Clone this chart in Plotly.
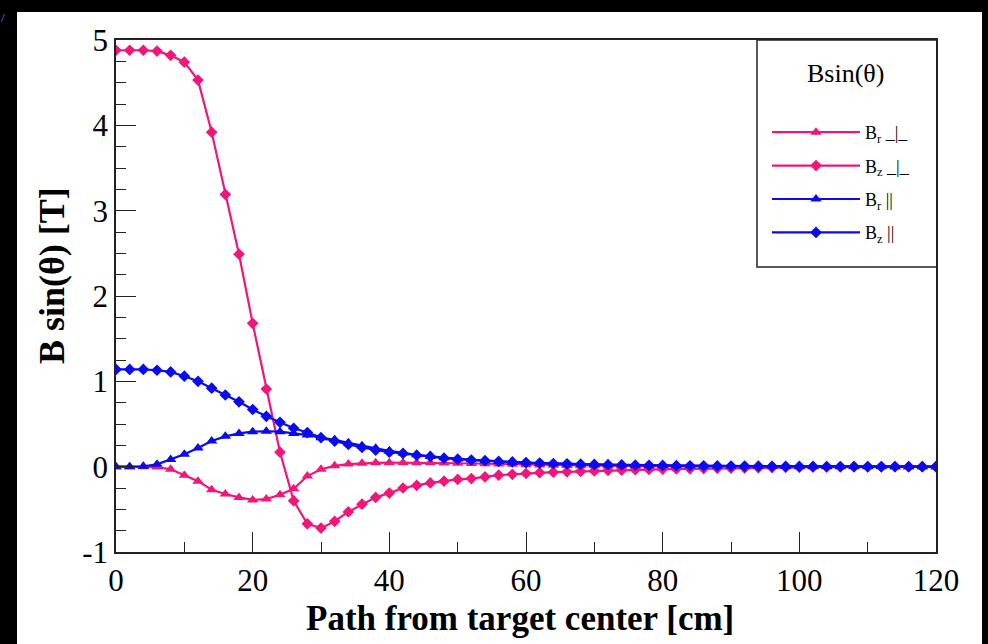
import plotly.graph_objects as go

# Path along the beam, sampled every 2 cm
path_cm = list(range(0, 122, 2))

# Transverse field components B sin(theta) [T]
br_perp = [0.0, 0.0, 0.0, -0.005, -0.03, -0.10, -0.17, -0.27, -0.32, -0.36,
           -0.39, -0.38, -0.33, -0.26, -0.11, -0.03, 0.01, 0.03, 0.04, 0.045,
           0.047, 0.047, 0.046, 0.045, 0.043, 0.04, 0.037, 0.034, 0.03, 0.027,
           0.023, 0.02, 0.017, 0.014, 0.012, 0.01, 0.008, 0.007, 0.006, 0.005,
           0.004, 0.003, 0.003, 0.002, 0.002, 0.002, 0.001, 0.001, 0.001, 0.001,
           0.0, 0.0, 0.0, 0.0, 0.0, 0.0, 0.0, 0.0, 0.0, 0.0, 0.0]

bz_perp = [4.88, 4.88, 4.88, 4.87, 4.82, 4.74, 4.53, 3.92, 3.19, 2.49,
           1.68, 0.91, 0.17, -0.40, -0.67, -0.72, -0.64, -0.53, -0.44, -0.36,
           -0.31, -0.25, -0.22, -0.19, -0.17, -0.15, -0.14, -0.12, -0.10, -0.09,
           -0.08, -0.07, -0.065, -0.06, -0.055, -0.05, -0.045, -0.04, -0.035, -0.032,
           -0.03, -0.027, -0.025, -0.022, -0.02, -0.018, -0.016, -0.014, -0.012, -0.01,
           -0.008, -0.006, -0.005, -0.004, -0.003, -0.002, -0.002, -0.001, -0.001, 0.0, 0.0]

br_par = [0.0, 0.0, 0.005, 0.027, 0.085, 0.145, 0.22, 0.30, 0.355, 0.39,
          0.41, 0.415, 0.41, 0.39, 0.37, 0.34, 0.315, 0.28, 0.245, 0.215,
          0.185, 0.16, 0.14, 0.12, 0.105, 0.09, 0.08, 0.07, 0.06, 0.052,
          0.045, 0.04, 0.035, 0.031, 0.027, 0.024, 0.021, 0.019, 0.017, 0.015,
          0.013, 0.011, 0.01, 0.009, 0.008, 0.007, 0.006, 0.005, 0.004, 0.003,
          0.003, 0.002, 0.002, 0.002, 0.001, 0.001, 0.001, 0.0, 0.0, 0.0, 0.0]

bz_par = [1.14, 1.14, 1.14, 1.13, 1.11, 1.06, 1.00, 0.92, 0.84, 0.76,
          0.67, 0.59, 0.52, 0.45, 0.40, 0.34, 0.30, 0.26, 0.225, 0.195,
          0.17, 0.155, 0.135, 0.12, 0.10, 0.088, 0.078, 0.07, 0.062, 0.055,
          0.048, 0.042, 0.037, 0.033, 0.029, 0.026, 0.023, 0.02, 0.018, 0.016,
          0.014, 0.012, 0.011, 0.01, 0.009, 0.008, 0.007, 0.006, 0.005, 0.004,
          0.003, 0.003, 0.002, 0.002, 0.002, 0.001, 0.001, 0.001, 0.0, 0.0, 0.0]

series_names = ["B<sub>r</sub> _|_", "B<sub>z</sub> _|_", "B<sub>r</sub> ||", "B<sub>z</sub> ||"]
x_ticks = [0, 20, 40, 60, 80, 100, 120]
y_ticks = [-1, 0, 1, 2, 3, 4, 5]

PINK = "#f0167a"
BLUE = "#0a0af0"
SERIF = "Liberation Serif"

fig = go.Figure()
styles = [
    (br_perp, PINK, "triangle-up", 10),
    (bz_perp, PINK, "diamond", 9),
    (br_par, BLUE, "triangle-up", 10),
    (bz_par, BLUE, "diamond", 9),
]
for name, (vals, color, symbol, size) in zip(series_names, styles):
    fig.add_trace(go.Scatter(
        x=path_cm, y=vals, name=name, mode="lines+markers",
        legendgroup=name,
        line=dict(color=color, width=2.2),
        marker=dict(symbol=symbol, size=size, color=color, line=dict(width=0)),
    ))

W, H = 988, 644
L, R, T, B = 116, 52, 40, 92
pw, ph = W - L - R, H - T - B


def px_x(p):
    return (p - L) / pw


def px_y(p):
    return (H - B - p) / ph


axis_common = dict(
    showgrid=False, zeroline=False, showline=True, mirror=True,
    linecolor="#222222", linewidth=1.5,
    ticks="inside", tickcolor="#222222", tickwidth=1.2, ticklen=20,
    tickfont=dict(family=SERIF, size=31, color="black"),
)

fig.update_layout(
    width=W, height=H,
    margin=dict(l=L, r=R, t=T, b=B, autoexpand=False),
    paper_bgcolor="black",
    plot_bgcolor="white",
    font=dict(family=SERIF, color="black"),
    xaxis=dict(
        range=[0, 120], tickvals=x_ticks, ticktext=[str(v) for v in x_ticks],
        minor=dict(dtick=10, tick0=0, ticks="inside", ticklen=10, tickcolor="#222222", tickwidth=1.2),
        **axis_common,
    ),
    yaxis=dict(
        range=[-1, 5], tickvals=y_ticks, ticktext=[str(v) for v in y_ticks],
        minor=dict(dtick=0.25, tick0=0, ticks="inside", ticklen=10, tickcolor="#222222", tickwidth=1.2),
        **axis_common,
    ),
    legend=dict(
        x=px_x(767), xanchor="left", y=px_y(114), yanchor="top",
        bgcolor="rgba(0,0,0,0)", borderwidth=0,
        font=dict(family=SERIF, size=18, color="black"),
        itemwidth=88, tracegroupgap=7, traceorder="grouped",
    ),
    showlegend=True,
    shapes=[
        # white page area
        dict(type="rect", xref="paper", yref="paper", layer="below",
             x0=px_x(17), x1=px_x(982), y0=px_y(644), y1=px_y(12),
             fillcolor="white", line=dict(width=0)),
        # legend frame
        dict(type="rect", xref="paper", yref="paper", layer="above",
             x0=px_x(757), x1=px_x(937), y0=px_y(267), y1=px_y(40),
             fillcolor="rgba(0,0,0,0)", line=dict(color="#222222", width=1.5)),
    ],
    annotations=[
        dict(text="<b>Path from target center [cm]</b>", xref="paper", yref="paper",
             x=px_x(520), y=px_y(618),
             xanchor="center", yanchor="middle", showarrow=False,
             font=dict(family=SERIF, size=35, color="black")),
        dict(text="<b>B sin(θ) [T]</b>", xref="paper", yref="paper",
             x=px_x(52), y=px_y(276), textangle=-90,
             xanchor="center", yanchor="middle", showarrow=False,
             font=dict(family=SERIF, size=36, color="black")),
        dict(text="Bsin(θ)", xref="paper", yref="paper", x=px_x(845), y=px_y(73),
             xanchor="center", yanchor="middle", showarrow=False,
             font=dict(family=SERIF, size=26, color="black")),
        dict(text="/", xref="paper", yref="paper", x=px_x(3), y=px_y(17),
             xanchor="center", yanchor="middle", showarrow=False,
             font=dict(family=SERIF, size=13, color="#a070ff")),
    ],
)

fig.write_html("out.html")
